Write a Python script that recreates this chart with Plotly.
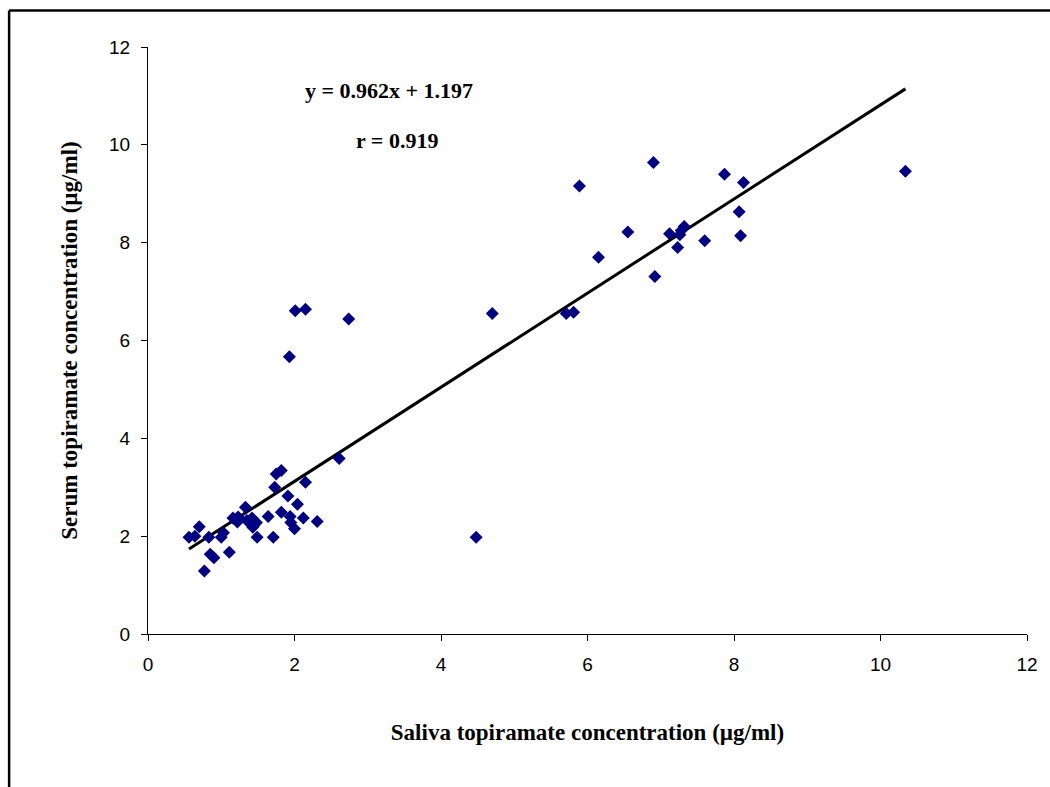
import plotly.graph_objects as go

# Saliva (x) vs serum (y) topiramate concentrations, µg/ml
saliva = [0.56, 0.64, 0.70, 0.77, 0.83, 0.85, 0.90, 1.00, 1.03, 1.11,
          1.16, 1.22, 1.23, 1.33, 1.35, 1.42, 1.45, 1.48, 1.43, 1.49,
          1.64, 1.71, 1.73, 1.75, 1.82, 1.82, 1.91, 1.94, 1.95, 2.00,
          2.04, 2.12, 2.15, 2.31, 2.61, 1.93, 2.01, 2.15, 2.74, 4.48,
          4.70, 5.71, 5.81, 5.89, 6.15, 6.55, 6.90, 6.92, 7.12, 7.26,
          7.32, 7.28, 7.23, 7.60, 7.87, 8.13, 8.07, 8.09, 10.34]
serum = [1.98, 2.00, 2.19, 1.29, 1.98, 1.63, 1.56, 1.98, 2.07, 1.67,
         2.37, 2.29, 2.39, 2.59, 2.32, 2.37, 2.23, 2.28, 2.18, 1.98,
         2.40, 1.98, 3.00, 3.27, 3.34, 2.49, 2.82, 2.40, 2.28, 2.15,
         2.65, 2.37, 3.10, 2.30, 3.59, 5.67, 6.61, 6.64, 6.44, 1.98,
         6.55, 6.55, 6.58, 9.16, 7.70, 8.22, 9.64, 7.31, 8.18, 8.16,
         8.33, 8.25, 7.90, 8.04, 9.40, 9.23, 8.63, 8.14, 9.46]

slope = 0.962
intercept = 1.197
r_value = 0.919

x_ticks = [0, 2, 4, 6, 8, 10, 12]
y_ticks = [0, 2, 4, 6, 8, 10, 12]

fit_x = [min(saliva), max(saliva)]
fit_y = [slope * v + intercept for v in fit_x]

fig = go.Figure()
fig.add_trace(go.Scatter(
    x=fit_x, y=fit_y, mode="lines",
    line=dict(color="black", width=3), showlegend=False, hoverinfo="skip"))
fig.add_trace(go.Scatter(
    x=saliva, y=serum, mode="markers",
    marker=dict(symbol="diamond", size=10, color="#000080"),
    showlegend=False))

title_font = dict(family="Liberation Serif", size=23, color="black")
ann_font = dict(family="Liberation Serif", size=22, color="black")
tick_font = dict(family="Liberation Sans", size=19, color="black")

fig.update_xaxes(
    range=[0, 12], tickvals=x_ticks, ticks="outside", ticklen=6, tickcolor="black",
    showline=True, linecolor="black", linewidth=1, showgrid=False, zeroline=False,
    tickfont=tick_font, ticklabelstandoff=7,
    title=dict(text="<b>Saliva topiramate concentration (µg/ml)</b>", font=title_font, standoff=50))
fig.update_yaxes(
    range=[0, 12], tickvals=y_ticks, ticks="outside", ticklen=6, tickcolor="black",
    showline=True, linecolor="black", linewidth=1, showgrid=False, zeroline=False,
    tickfont=tick_font, ticklabelstandoff=7,
    title=dict(text="<b>Serum topiramate concentration (µg/ml)</b>", font=title_font, standoff=25))

fig.add_annotation(x=3.29, y=11.12, xref="x", yref="y", showarrow=False,
                   text=f"<b>y = {slope}x + {intercept}</b>", font=ann_font)
fig.add_annotation(x=3.40, y=10.08, xref="x", yref="y", showarrow=False,
                   text=f"<b>r = {r_value}</b>", font=ann_font)

# outer frame (top and left edges visible)
fig.add_shape(type="line", xref="paper", yref="paper", x0=-0.158, x1=1.2, y0=1.062, y1=1.062,
              line=dict(color="black", width=2.5))
fig.add_shape(type="line", xref="paper", yref="paper", x0=-0.158, x1=-0.158, y0=1.062, y1=-0.4,
              line=dict(color="black", width=2.5))

fig.update_layout(
    width=1050, height=787,
    margin=dict(l=148, r=14, t=47, b=153),
    plot_bgcolor="white", paper_bgcolor="white",
)

fig.write_html("out.html", config={"displayModeBar": False},
               post_script="document.body.style.margin='0';document.body.style.overflow='hidden';")
